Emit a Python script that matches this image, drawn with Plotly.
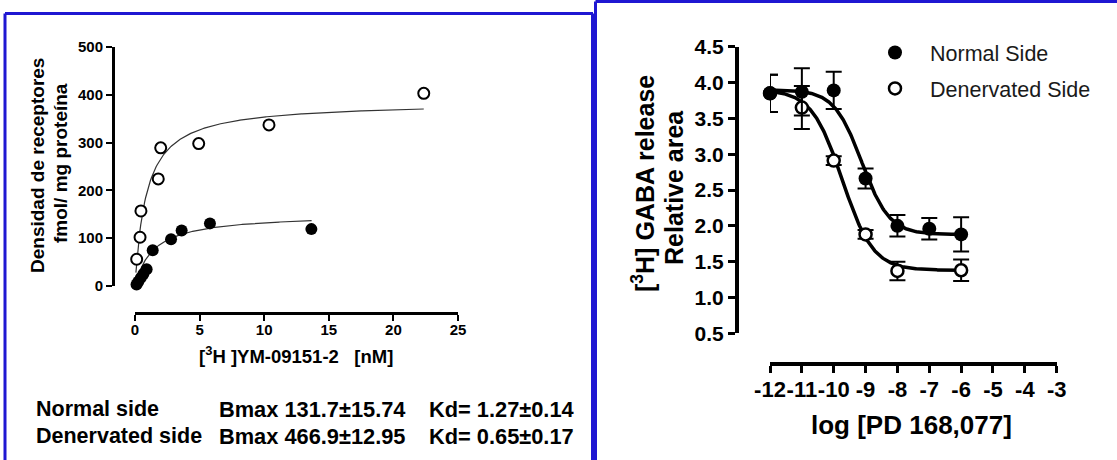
import numpy as np
import plotly.graph_objects as go

W, H = 1117, 460

# ---------------- data: left panel (saturation binding) ----------------
norm_x = [0.12, 0.25, 0.45, 0.65, 0.9, 1.37, 2.79, 3.61, 5.80, 13.65]
norm_y = [3, 9, 17, 25, 35, 75, 98, 116, 131, 119]
den_x = [0.13, 0.39, 0.46, 1.80, 1.99, 4.93, 10.37, 22.35]
den_y = [56, 102, 157, 224, 289, 298, 337, 403]
# fitted one-site curve parameters as drawn (Bmax, Kd, x-extent)
norm_fit = dict(bmax=150.8, kd=1.42, xmin=0.03, xmax=13.67)
den_fit = dict(bmax=385.0, kd=0.89, xmin=0.07, xmax=22.35)
left_xticks = [0, 5, 10, 15, 20, 25]
left_yticks = [0, 100, 200, 300, 400, 500]

stats_rows = [
    ("Normal side", "Bmax 131.7±15.74", "Kd= 1.27±0.14"),
    ("Denervated side", "Bmax 466.9±12.95", "Kd= 0.65±0.17"),
]

# ---------------- data: right panel (GABA release) ----------------
r_norm_x = [-12, -11, -10, -9, -8, -7, -6]
r_norm_y = [3.85, 3.87, 3.89, 2.66, 2.00, 1.96, 1.88]
r_norm_err = [0.26, 0.33, 0.26, 0.14, 0.15, 0.15, 0.24]
r_den_x = [-12, -11, -10, -9, -8, -6]
r_den_y = [3.85, 3.65, 2.91, 1.88, 1.37, 1.38]
r_den_err = [0.26, 0.30, 0.06, 0.06, 0.13, 0.15]
# sigmoidal fit parameters as drawn (top, bottom, logEC50, hill)
r_norm_fit = dict(top=3.90, bottom=1.88, logec50=-9.12, hill=1.0)
r_den_fit = dict(top=3.90, bottom=1.38, logec50=-9.73, hill=0.9)
right_xticks = [-12, -11, -10, -9, -8, -7, -6, -5, -4, -3]
right_xticklabels = ["-12", "-11", "-10", "-9", "-8", "-7", "-6", "-5", "-4", "-3"]
right_yticks = [0.5, 1.0, 1.5, 2.0, 2.5, 3.0, 3.5, 4.0, 4.5]

FONT = "Arial, Liberation Sans, sans-serif"
BLUE = "#1f17d2"


def px(x):
    return x / W


def py(y):
    return 1 - y / H


def hyperbola(p):
    xs = np.linspace(p["xmin"], p["xmax"], 300)
    return xs, p["bmax"] * xs / (p["kd"] + xs)


def sigmoid(p, x0=-12, x1=-6):
    xs = np.linspace(x0, x1, 300)
    return xs, p["bottom"] + (p["top"] - p["bottom"]) / (1 + 10 ** ((xs - p["logec50"]) * p["hill"]))


fig = go.Figure()

# left curves
for p in (den_fit, norm_fit):
    xs, ys = hyperbola(p)
    fig.add_trace(go.Scatter(x=xs, y=ys, mode="lines", line=dict(color="#333333", width=1.2),
                             showlegend=False, hoverinfo="skip", xaxis="x", yaxis="y"))
# left points
fig.add_trace(go.Scatter(x=den_x, y=den_y, mode="markers", showlegend=False, cliponaxis=False,
                         marker=dict(symbol="circle", size=11, color="white",
                                     line=dict(color="black", width=2)),
                         xaxis="x", yaxis="y"))
fig.add_trace(go.Scatter(x=norm_x, y=norm_y, mode="markers", showlegend=False, cliponaxis=False,
                         marker=dict(symbol="circle", size=12, color="black",
                                     line=dict(color="black", width=0)),
                         xaxis="x", yaxis="y"))

# right curves
for p in (r_den_fit, r_norm_fit):
    xs, ys = sigmoid(p)
    fig.add_trace(go.Scatter(x=xs, y=ys, mode="lines", line=dict(color="black", width=3.5),
                             showlegend=False, hoverinfo="skip", xaxis="x2", yaxis="y2"))

# right points
fig.add_trace(go.Scatter(x=r_den_x, y=r_den_y, mode="markers", name="Denervated Side",
                         legendrank=2, legendgroup="d", cliponaxis=False,
                         error_y=dict(type="data", array=r_den_err, color="black", thickness=2, width=8),
                         marker=dict(symbol="circle", size=12, color="white",
                                     line=dict(color="black", width=2.5)),
                         xaxis="x2", yaxis="y2"))
fig.add_trace(go.Scatter(x=r_norm_x, y=r_norm_y, mode="markers", name="Normal Side",
                         legendrank=1, legendgroup="n", cliponaxis=False,
                         error_y=dict(type="data", array=r_norm_err, color="black", thickness=2, width=8),
                         marker=dict(symbol="circle", size=14, color="black",
                                     line=dict(color="black", width=0)),
                         xaxis="x2", yaxis="y2"))

axis_common = dict(showline=True, linecolor="black", showgrid=False, zeroline=False,
                   ticks="outside", tickcolor="black", automargin=False, tickangle=0)

fig.update_layout(
    template="none",
    width=W, height=H, margin=dict(l=0, r=0, t=0, b=0, autoexpand=False),
    paper_bgcolor="white", plot_bgcolor="white",
    font=dict(family=FONT, color="black"),
    xaxis=dict(**axis_common, domain=[px(135), px(458)], range=[0, 25], anchor="free",
               position=py(313), linewidth=3, ticklen=6, tickwidth=2, ticklabelstandoff=-4,
               tickvals=left_xticks, tickfont=dict(size=15, weight="bold")),
    yaxis=dict(**axis_common, domain=[py(286), py(47)], range=[0, 500], anchor="free",
               position=px(113), linewidth=3, ticklen=6, tickwidth=2,
               tickvals=left_yticks, tickfont=dict(size=15, weight="bold")),
    xaxis2=dict(**axis_common, domain=[px(770), px(1056.7)], range=[-12, -3], anchor="free",
                position=py(364), linewidth=4, ticklen=7, tickwidth=3, ticklabelstandoff=-2,
                tickvals=right_xticks, ticktext=right_xticklabels,
                tickfont=dict(size=22, weight="bold")),
    yaxis2=dict(**axis_common, domain=[py(333.3), py(46.7)], range=[0.5, 4.5], anchor="free",
                position=px(737), linewidth=4, ticklen=7, tickwidth=3,
                tickvals=right_yticks, tickformat=".1f", tickfont=dict(size=21, weight="bold")),
    legend=dict(x=px(860), y=py(32), xanchor="left", yanchor="top", bgcolor="rgba(0,0,0,0)",
                font=dict(size=21.5, color="#1a1a1a"), itemwidth=60, traceorder="grouped",
                tracegroupgap=5, borderwidth=0),
)

ann = []


def text(x, y, s, size, bold=True, angle=0, xanchor="center"):
    ann.append(dict(x=px(x), y=py(y), xref="paper", yref="paper", text=s, showarrow=False,
                    textangle=angle, xanchor=xanchor, yanchor="middle",
                    font=dict(size=size, family=FONT, color="black", weight="bold" if bold else "normal")))


# left titles
text(37, 166, "Densidad de receptores", 19, angle=-90)
text(60, 163, "fmol/ mg proteína", 19, angle=-90)
text(296, 355, "[<sup>3</sup>H ]YM-09151-2\u00a0\u00a0\u00a0[nM]", 18.5)
# stats
for i, row in enumerate(stats_rows):
    yy = 409 + 27 * i
    text(34, yy, row[0], 21.5, xanchor="left")
    text(217, yy, row[1], 21.8, xanchor="left")
    text(427, yy, row[2], 21.8, xanchor="left")
# right titles
text(643, 184, "[<sup>3</sup>H] GABA release", 25, angle=-90)
text(674, 188, "Relative area", 25, angle=-90)
text(911, 425, "log [PD 168,077]", 26)

fig.update_layout(annotations=ann)

# blue panel frames
shapes = [
    dict(type="line", x0=px(5), x1=px(5), y0=py(13.5), y1=py(470)),
    dict(type="line", x0=px(5), x1=px(593), y0=py(13.5), y1=py(13.5)),
    dict(type="line", x0=px(592.5), x1=px(592.5), y0=py(13.5), y1=py(470)),
    dict(type="line", x0=px(595.5), x1=px(595.5), y0=py(1.5), y1=py(470)),
    dict(type="line", x0=px(595.5), x1=px(1130), y0=py(1.5), y1=py(1.5)),
]
for s in shapes:
    s.update(xref="paper", yref="paper", line=dict(color=BLUE, width=3))
fig.update_layout(shapes=shapes)

fig.write_html("out.html")
